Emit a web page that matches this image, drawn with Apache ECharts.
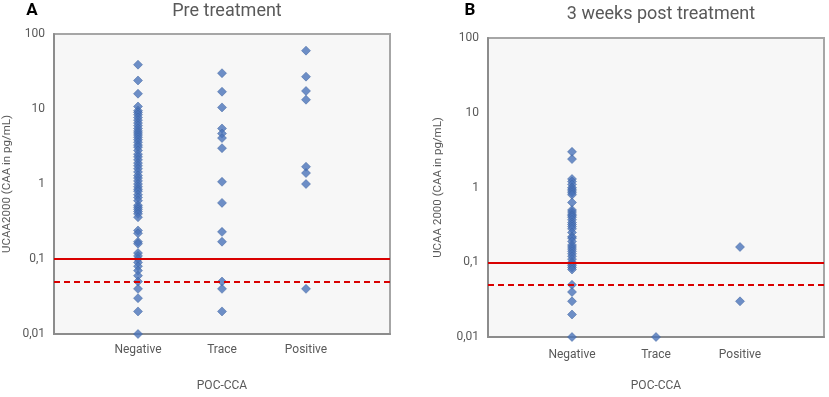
<!DOCTYPE html>
<html>
<head>
<meta charset="utf-8">
<script src="https://cdn.jsdelivr.net/npm/echarts@6/dist/echarts.min.js"></script>
<style>
html, body { margin: 0; padding: 0; background: #fff; }
#main { width: 829px; height: 397px; }
</style>
</head>
<body>
<div id="main"></div>
<script>
// categories on the x axis (positions 1, 2, 3)
var groups = ['Negative', 'Trace', 'Positive'];
var yTicks = ['0,01', '0,1', '1', '10', '100'];
var thresholds = [0.1, 0.05]; // solid, dashed

// Pre treatment (panel A), CAA in pg/mL
var preNegative = [39, 24, 16, 10.8, 9.5, 9, 8.4, 7.7, 7.1, 6.5, 6, 5.5, 5.1, 4.8, 4.5, 4.2, 3.9, 3.6,
	3.3, 3.1, 2.8, 2.5, 2.3, 2.1, 1.9, 1.75, 1.6, 1.45, 1.3, 1.2, 1.1, 1.0, 0.92, 0.85, 0.8, 0.72,
	0.66, 0.6, 0.52, 0.49, 0.46, 0.43, 0.4, 0.36, 0.24, 0.22, 0.17, 0.16, 0.12, 0.11, 0.1, 0.09,
	0.08, 0.07, 0.06, 0.05, 0.04, 0.03, 0.02, 0.01];
var preTrace = [30, 17, 10.5, 5.5, 4.7, 4.1, 3.0, 1.07, 0.56, 0.23, 0.17, 0.05, 0.04, 0.02];
var prePositive = [60, 27, 17.4, 13.3, 1.7, 1.4, 1.0, 0.04];

// 3 weeks post treatment (panel B)
var postNegative = [3, 2.4, 1.3, 1.2, 1.1, 1.0, 0.95, 0.9, 0.85, 0.8, 0.63, 0.5, 0.47, 0.44, 0.42,
	0.4, 0.37, 0.34, 0.32, 0.3, 0.28, 0.25, 0.22, 0.21, 0.19, 0.17, 0.16, 0.15, 0.14, 0.13, 0.12,
	0.11, 0.1, 0.095, 0.09, 0.085, 0.08, 0.05, 0.04, 0.03, 0.02, 0.01];
var postTrace = [0.01];
var postPositive = [0.16, 0.03];

var grey = '#595959';
var font = 'Roboto, "Liberation Sans", sans-serif';

function pts(x, arr) {
	var out = [];
	for (var i = 0; i < arr.length; i++) {
		out.push([x, arr[i]]);
	}
	return out;
}

function xAxisFor(idx, margin, gap) {
	return {
		type: 'value', gridIndex: idx, min: 0, max: 4, interval: 1,
		name: 'POC-CCA', nameLocation: 'middle', nameGap: gap,
		nameTextStyle: { color: grey, fontSize: 12, fontFamily: font },
		axisLine: { lineStyle: { color: '#8c8c8c', width: 2 } },
		axisTick: { show: false },
		splitLine: { show: false },
		axisLabel: {
			color: grey, fontSize: 12, fontFamily: font, margin: margin,
			formatter: function(v) { return groups[v - 1] || ''; }
		}
	};
}

function yAxisFor(idx, name, gap) {
	return {
		type: 'log', logBase: 10, gridIndex: idx, min: 0.01, max: 100,
		name: name, nameLocation: 'middle', nameGap: gap,
		nameTextStyle: { color: grey, fontSize: 11.5, fontFamily: font },
		axisLine: { show: true, lineStyle: { color: '#8c8c8c', width: 2 } },
		axisTick: { show: false },
		minorTick: { show: false },
		splitLine: { show: false },
		axisLabel: {
			color: grey, fontSize: 12, fontFamily: font, margin: 9,
			formatter: function(v) {
				var e = Math.round(Math.log(v) / Math.LN10);
				return yTicks[e + 2];
			}
		}
	};
}

function dots(idx, x, arr, withLines) {
	var s = {
		type: 'scatter', xAxisIndex: idx, yAxisIndex: idx,
		symbol: 'diamond', symbolSize: 9, clip: false,
		itemStyle: { color: '#4a73b9', borderColor: '#3a609f', borderWidth: 0.6 },
		data: pts(x, arr)
	};
	if (withLines) {
		s.markLine = {
			silent: true, symbol: 'none', label: { show: false },
			data: [
				{ yAxis: thresholds[0], lineStyle: { color: '#d90000', width: 2, type: 'solid' } },
				{ yAxis: thresholds[1], lineStyle: { color: '#d90000', width: 2, type: [6, 4] } }
			]
		};
	}
	return s;
}

var myChart = echarts.init(document.getElementById('main'));
var option = {
	backgroundColor: '#fff',
	animation: false,
	grid: [
		{ left: 52, top: 34, width: 338, height: 305, show: true, backgroundColor: '#f7f7f7', borderColor: '#a6a6a6', borderWidth: 2 },
		{ left: 488, top: 38, width: 336, height: 308, show: true, backgroundColor: '#f7f7f7', borderColor: '#a6a6a6', borderWidth: 2 }
	],
	xAxis: [xAxisFor(0, 10, 46), xAxisFor(1, 12, 43)],
	yAxis: [yAxisFor(0, 'UCAA2000 (CAA in pg/mL)', 41), yAxisFor(1, 'UCAA 2000 (CAA in pg/mL)', 44)],
	graphic: [
		{ type: 'text', x: 32, y: 11, style: { text: 'A', font: 'bold 17px ' + font, fill: '#000', textAlign: 'center', textVerticalAlign: 'middle' } },
		{ type: 'text', x: 227, y: 11, style: { text: 'Pre treatment', font: '18px ' + font, fill: grey, textAlign: 'center', textVerticalAlign: 'middle' } },
		{ type: 'text', x: 470, y: 11, style: { text: 'B', font: 'bold 17px ' + font, fill: '#000', textAlign: 'center', textVerticalAlign: 'middle' } },
		{ type: 'text', x: 661, y: 14, style: { text: '3 weeks post treatment', font: '18px ' + font, fill: grey, textAlign: 'center', textVerticalAlign: 'middle' } }
	],
	series: [
		dots(0, 1, preNegative, true),
		dots(0, 2, preTrace),
		dots(0, 3, prePositive),
		dots(1, 1, postNegative, true),
		dots(1, 2, postTrace),
		dots(1, 3, postPositive)
	]
};
myChart.setOption(option);
</script>
</body>
</html>
